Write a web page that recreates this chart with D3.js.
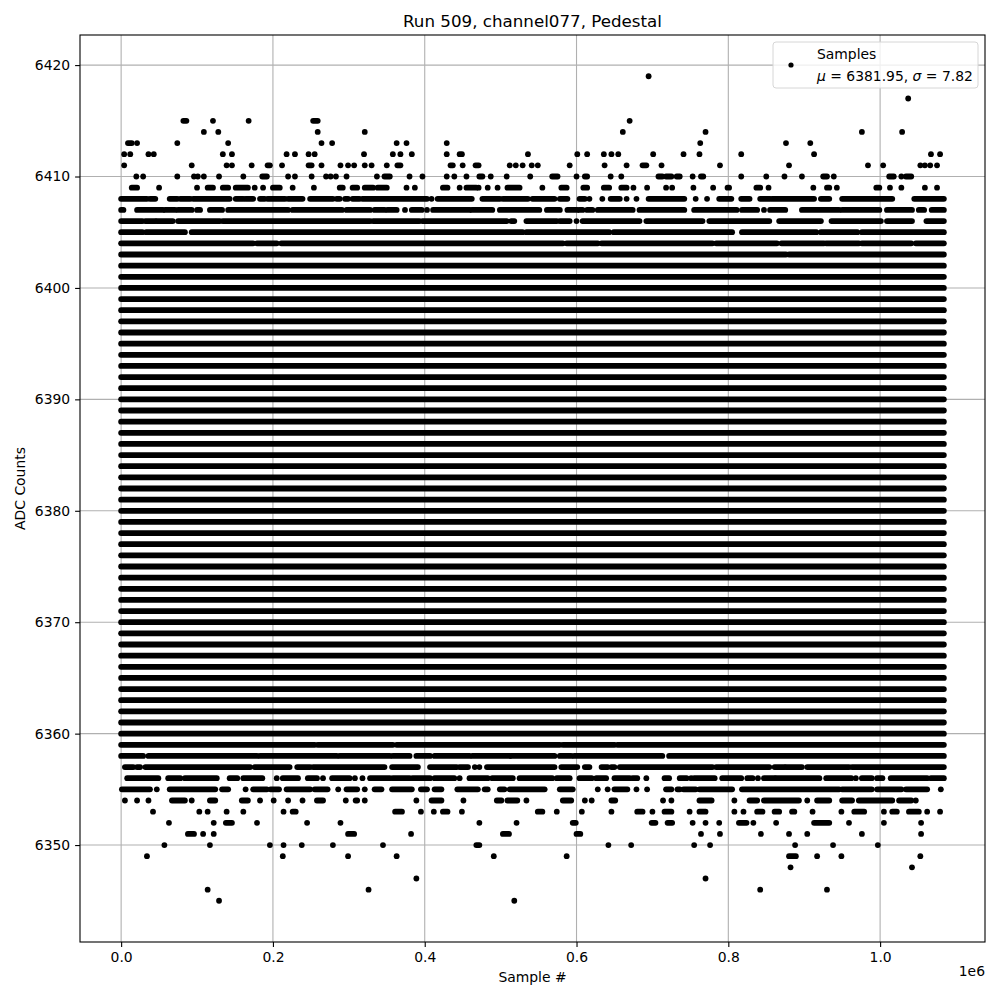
<!DOCTYPE html>
<html>
<head>
<meta charset="utf-8">
<script src="https://cdn.jsdelivr.net/npm/d3@7"></script>
<style>
    body { margin: 0; background: #fff; }
    text { font-family: "DejaVu Sans", sans-serif; fill: #000; }
</style>
</head>
<body>
<script>
// ADC levels that are filled across the whole run (solid bands)
const denseLevels = [
    6360, 6361, 6362, 6363, 6364, 6365, 6366, 6367, 6368, 6369, 6370,
    6371, 6372, 6373, 6374, 6375, 6376, 6377, 6378, 6379, 6380, 6381,
    6382, 6383, 6384, 6385, 6386, 6387, 6388, 6389, 6390, 6391, 6392,
    6393, 6394, 6395, 6396, 6397, 6398, 6399, 6400, 6401, 6402,
];
const firstSample = 0;
const lastSample = 1084; // thousands of samples

// runs of samples [from, to] in thousands, single sample = [x]
const upperRuns = [
    [6403, [[0, 876], [880, 1084]]],
    [6404, [[0, 174], [179, 205], [211, 582], [587, 628], [633, 779], [784, 864], [870, 926], [929, 972], [976, 1041], [1047, 1084]]],
    [6405, [[0, 28], [33, 84], [93, 529], [534, 643], [649, 805], [818, 916], [922, 970], [976, 1084]]],
    [6406, [[0, 28], [32, 45], [47, 68], [75, 130], [134, 328], [332, 393], [397, 508], [514, 518], [534, 574], [578, 591], [600], [608, 683], [692, 766], [775, 854], [867, 922], [936, 1001], [1009, 1042], [1061, 1084]]],
    [6407, [[0, 3], [21, 55], [58, 71], [75, 93], [100, 104], [117, 133], [141, 220], [226, 291], [297, 328], [334, 347], [351, 363], [374], [383, 396], [403], [411, 459], [462, 489], [499, 551], [561, 578], [588, 601], [604, 608], [614, 621], [628, 674], [683, 742], [755, 811], [818, 838], [847], [855, 875], [897, 946], [950, 999], [1009, 1042], [1051, 1058], [1068, 1084]]],
    [6408, [[0, 34], [38, 45], [64, 74], [78, 91], [95, 143], [151, 161], [164, 174], [183, 189], [193, 216], [220, 239], [249, 279], [284, 288], [295, 299], [305, 314], [318, 403], [409], [417, 462], [476, 499], [503, 536], [542, 571], [578, 588], [604, 611], [617], [634], [645, 657], [666], [679], [695, 742], [757], [772], [788, 804], [817, 828], [842, 855], [858, 913], [922, 933], [950, 1016], [1045, 1084]]],
    [6409, [[14, 21], [50], [100], [114, 121], [134, 141], [151, 167], [176], [187], [200, 209], [226], [254], [288, 292], [305, 311], [321, 332], [338, 350], [376], [387], [424, 430], [446], [455, 468], [471], [483], [496], [509, 525], [555], [580, 587], [609, 614], [636, 643], [659, 666], [675], [693], [718], [726], [754], [780], [799, 801], [837, 842], [853], [912], [930, 933], [943], [995, 999], [1013], [1028], [1059], [1075]]],
    [6410, [[20], [29], [74], [96], [101], [109], [129], [161], [186, 192], [220], [229], [251], [270], [276], [283], [297], [337], [347, 354], [380], [397], [429], [439], [455], [472, 476], [487], [508], [539], [568, 575], [600], [611, 614], [645], [659], [708, 713], [718, 725], [732, 736], [753], [764, 767], [817], [850], [874], [897], [925, 930], [939], [1012, 1018], [1028], [1034, 1041]]],
    [6411, [[4], [93], [139], [146], [172], [193, 196], [212], [247, 251], [264], [289], [299], [307], [321], [330], [350], [364, 368], [434, 437], [450], [467, 471], [512], [520], [529], [541], [549], [591], [637], [666], [687, 692], [712], [789], [880], [984], [1004], [1053], [1059], [1066], [1075]]],
    [6412, [[4], [12], [36], [43], [134], [146], [218], [229], [247], [255], [320], [358], [368], [383], [429], [446, 449], [536], [601], [614], [636], [646], [655], [701], [741], [762], [817], [913], [1067], [1079]]],
    [6413, [[9, 14], [21], [74], [141], [264], [278], [363], [376], [429], [763], [876], [908]]],
    [6414, [[109], [128], [259], [321], [661], [770], [976], [1029]]],
    [6415, [[82, 86], [121], [168], [253, 259], [670]]],
    [6417, [[1037]]],
    [6419, [[695]]],
];

const lowerRuns = [
    [6359, [[0, 255], [259, 358], [363, 578], [582, 650], [654, 1084]]],
    [6358, [[0, 29], [36, 179], [183, 284], [288, 354], [358, 380], [389, 407], [413, 459], [463, 512], [514, 571], [578, 593], [597, 713], [722, 1084]]],
    [6357, [[5, 16], [21, 25], [32, 170], [176, 222], [232, 249], [253, 347], [357, 391], [407, 442], [446, 457], [466], [472], [482, 571], [580, 601], [611, 617], [633, 641], [646, 650], [657, 779], [784, 854], [861, 874], [876, 897], [904, 959], [963, 1084]]],
    [6356, [[8, 49], [62, 78], [84, 126], [143, 153], [161, 186], [205], [213, 233], [246, 258], [266], [278, 301], [308], [318], [328, 354], [358, 380], [384, 407], [413, 439], [446], [459, 483], [489, 516], [525, 568], [574, 591], [604, 620], [626, 639], [650, 670], [674, 680], [692], [716, 722], [736, 745], [751], [755, 782], [792, 817], [825, 832], [839], [847, 861], [863, 920], [929, 962], [968], [976, 989], [996, 1003], [1014, 1062], [1067, 1084]]],
    [6355, [[1, 38], [47], [64, 124], [133, 141], [164], [174, 192], [197, 208], [218, 249], [255, 272], [286], [297, 311], [321], [334, 343], [357, 383], [395, 403], [413, 422], [443, 470], [479, 483], [499, 505], [512, 558], [578, 595], [628], [641], [650, 667], [679], [693], [718, 725], [733, 736], [741, 757], [762, 805], [818, 946], [950, 989], [996, 1028], [1034, 1062], [1080]]],
    [6354, [[5], [21], [36], [67, 84], [93], [117, 124], [159, 167], [183], [201], [220], [239], [258, 266], [296], [309, 311], [321], [389], [409, 422], [451], [495, 501], [509, 522], [534], [582, 593], [611], [620], [646, 651], [714], [725], [762, 778], [808], [828, 838], [847, 893], [904], [917, 933], [950, 963], [972, 1016], [1025, 1041], [1047]]],
    [6353, [[42], [103], [114], [139], [161], [214], [226, 230], [361, 370], [395], [412], [424, 430], [449], [549, 555], [574], [607], [646], [680, 687], [700], [716, 725], [749], [762, 770], [808], [820], [838, 845], [861, 867], [884, 887], [911], [949], [966, 979], [1005], [1016, 1022], [1038, 1051], [1062], [1079]]],
    [6352, [[63], [122], [138, 146], [179], [245], [289], [472], [521], [595, 599], [699, 704], [720, 726], [753], [770], [788], [814, 824], [833], [863], [913, 933], [959], [1005], [1054]]],
    [6351, [[88, 96], [108], [122], [299, 307], [382], [503, 511], [600, 605], [764], [789], [843], [880], [904], [976], [1054]]],
    [6350, [[57], [117], [196], [214], [238], [279], [345], [468, 472], [642], [672], [755], [776], [888], [938], [997]]],
    [6349, [[34], [213], [299], [363], [491], [587], [880, 889], [917], [949], [1053]]],
    [6348, [[882], [1042]]],
    [6347, [[389], [770]]],
    [6346, [[114], [326], [842], [930]]],
    [6345, [[129], [518]]],
];

const xTicks = [0, 200, 400, 600, 800, 1000];
const yTicks = [6350, 6360, 6370, 6380, 6390, 6400, 6410, 6420];
const meanValue = 6381.95;
const sigmaValue = 7.82;

const width = 1000;
const height = 1000;
const margin = { top: 35, right: 15, bottom: 58, left: 80 };

const svg = d3
    .select("body")
    .append("svg")
    .attr("width", width)
    .attr("height", height);

// flatten everything into rows of runs
let rows = [];
denseLevels.forEach((lv) => rows.push({ level: lv, from: firstSample, to: lastSample }));
upperRuns.concat(lowerRuns).forEach(([lv, runs]) => {
    runs.forEach((r) => rows.push({ level: lv, from: r[0], to: r.length > 1 ? r[1] : r[0] }));
});

// matplotlib style 5% padding around the data
const xExt = [d3.min(rows, (d) => d.from), d3.max(rows, (d) => d.to)];
const yExt = d3.extent(rows, (d) => d.level);
const xPad = (xExt[1] - xExt[0]) * 0.05;
const yPad = (yExt[1] - yExt[0]) * 0.05;

const x = d3
    .scaleLinear()
    .domain([xExt[0] - xPad, xExt[1] + xPad])
    .range([margin.left, width - margin.right]);
const y = d3
    .scaleLinear()
    .domain([yExt[0] - yPad, yExt[1] + yPad])
    .range([height - margin.bottom, margin.top]);

const plotW = width - margin.left - margin.right;
const plotH = height - margin.top - margin.bottom;

// grid
svg.append("g")
    .selectAll("line")
    .data(xTicks)
    .join("line")
    .attr("x1", (d) => x(d))
    .attr("x2", (d) => x(d))
    .attr("y1", margin.top)
    .attr("y2", margin.top + plotH)
    .attr("stroke", "#b0b0b0")
    .attr("stroke-width", 1.1);
svg.append("g")
    .selectAll("line")
    .data(yTicks)
    .join("line")
    .attr("x1", margin.left)
    .attr("x2", margin.left + plotW)
    .attr("y1", (d) => y(d))
    .attr("y2", (d) => y(d))
    .attr("stroke", "#b0b0b0")
    .attr("stroke-width", 1.1);

// samples
const dot = 5.8;
svg.append("g")
    .selectAll("rect")
    .data(rows)
    .join("rect")
    .attr("x", (d) => x(d.from) - dot / 2)
    .attr("y", (d) => y(d.level) - dot / 2)
    .attr("width", (d) => x(d.to) - x(d.from) + dot)
    .attr("height", dot)
    .attr("rx", dot / 2)
    .attr("fill", "#000");

// axes
const xAxis = d3
    .axisBottom(x)
    .tickValues(xTicks)
    .tickFormat((d) => (d / 1000).toFixed(1))
    .tickSize(4.9)
    .tickPadding(4.9);
const yAxis = d3
    .axisLeft(y)
    .tickValues(yTicks)
    .tickFormat(d3.format("d"))
    .tickSize(4.9)
    .tickPadding(4.9);

const gx = svg
    .append("g")
    .attr("transform", `translate(0, ${margin.top + plotH})`)
    .call(xAxis);
const gy = svg
    .append("g")
    .attr("transform", `translate(${margin.left}, 0)`)
    .call(yAxis);

[gx, gy].forEach((g) => {
    g.select(".domain").remove();
    g.selectAll(".tick line").attr("stroke", "#000").attr("stroke-width", 1.1);
    g.selectAll(".tick text")
        .attr("font-family", "DejaVu Sans")
        .attr("font-size", "13.9px")
        .attr("fill", "#000");
});

// frame
svg.append("rect")
    .attr("x", margin.left)
    .attr("y", margin.top)
    .attr("width", plotW)
    .attr("height", plotH)
    .attr("fill", "none")
    .attr("stroke", "#000")
    .attr("stroke-width", 1.1);

// titles
svg.append("text")
    .text("Run 509, channel077, Pedestal")
    .attr("x", margin.left + plotW / 2)
    .attr("y", 27)
    .attr("text-anchor", "middle")
    .attr("font-size", "16.7px");

svg.append("text")
    .text("Sample #")
    .attr("x", margin.left + plotW / 2)
    .attr("y", 982)
    .attr("text-anchor", "middle")
    .attr("font-size", "13.9px");

svg.append("text")
    .text("1e6")
    .attr("x", margin.left + plotW)
    .attr("y", 976)
    .attr("text-anchor", "end")
    .attr("font-size", "13.9px");

svg.append("text")
    .text("ADC Counts")
    .attr("transform", `translate(25, ${margin.top + plotH / 2}) rotate(-90)`)
    .attr("text-anchor", "middle")
    .attr("font-size", "13.9px");

// legend
const legend = svg.append("g").attr("class", "legend");
legend
    .append("rect")
    .attr("x", 773)
    .attr("y", 42)
    .attr("width", 205)
    .attr("height", 46)
    .attr("rx", 3)
    .attr("fill", "#fff")
    .attr("fill-opacity", 0.8)
    .attr("stroke", "#d6d6d6")
    .attr("stroke-width", 1);
legend
    .append("circle")
    .attr("cx", 791)
    .attr("cy", 65)
    .attr("r", 2.6)
    .attr("fill", "#000");
legend
    .append("text")
    .text("Samples")
    .attr("x", 817)
    .attr("y", 59)
    .attr("font-size", "13.9px");
const stats = legend
    .append("text")
    .attr("x", 817)
    .attr("y", 81)
    .attr("font-size", "13.9px");
stats.append("tspan").attr("font-style", "italic").text("μ");
stats.append("tspan").text(` = ${meanValue.toFixed(2)}, `);
stats.append("tspan").attr("font-style", "italic").text("σ");
stats.append("tspan").text(` = ${sigmaValue.toFixed(2)}`);
</script>
</body>
</html>
